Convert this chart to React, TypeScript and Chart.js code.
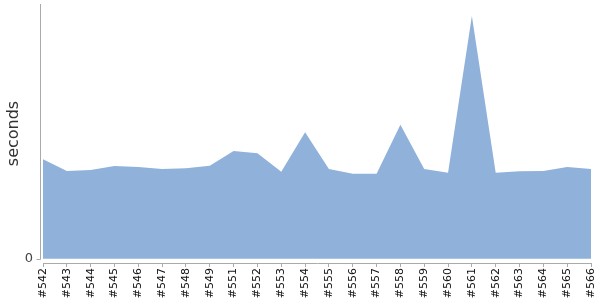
import React, { useEffect, useRef } from "react";
import { Chart, registerables } from "chart.js";

Chart.register(...registerables);

const categories = [
  "#542", "#543", "#544", "#545", "#546", "#547", "#548", "#549",
  "#551", "#552", "#553", "#554", "#555", "#556", "#557", "#558",
  "#559", "#560", "#561", "#562", "#563", "#564", "#565", "#566",
];

const seconds = [
  99.4, 87.7, 88.7, 92.7, 91.7, 89.7, 90.5, 93,
  107.7, 105.4, 87, 126.4, 89.7, 85, 85, 134,
  89.7, 86, 242.7, 86, 87.4, 87.7, 91.7, 89.7,
];

const yTicks = [0];
const yMin = -4.3;
const yMax = 254.7;

const FONT = "'DejaVu Sans', Verdana, sans-serif";

const axisLines = {
  id: "axisLines",
  afterDraw(chart: any) {
    const { ctx, chartArea, scales } = chart;
    const y0 = scales.y.getPixelForValue(0);
    ctx.save();
    ctx.strokeStyle = "#aaaaaa";
    ctx.lineWidth = 1;
    const x = Math.round(chartArea.left - 3) + 0.5;
    ctx.beginPath();
    ctx.moveTo(x, chartArea.top);
    ctx.lineTo(x, Math.round(y0) + 0.5);
    ctx.moveTo(x - 4, Math.round(y0) + 0.5);
    ctx.lineTo(x, Math.round(y0) + 0.5);
    ctx.stroke();
    ctx.restore();
  },
};

export default function App() {
  const ref = useRef<HTMLCanvasElement>(null);
  useEffect(() => {
    const chart = new Chart(ref.current!, {
      type: "line",
      data: {
        labels: categories,
        datasets: [
          {
            data: seconds,
            fill: "origin",
            backgroundColor: "rgb(143,177,218)",
            borderWidth: 0,
            pointRadius: 0,
            tension: 0,
          },
        ],
      },
      options: {
        animation: false,
        responsive: false,
        maintainAspectRatio: false,
        layout: { padding: { top: 4, right: 9, left: 0, bottom: 0 } },
        plugins: { legend: { display: false }, tooltip: { enabled: false } },
        scales: {
          x: {
            type: "category",
            offset: false,
            grid: { display: true, drawOnChartArea: false, tickLength: 4, color: "#aaaaaa" },
            border: { display: true, color: "#aaaaaa" },
            ticks: {
              autoSkip: false,
              minRotation: 90,
              maxRotation: 90,
              padding: 1,
              color: "#111111",
              font: { family: FONT, size: 11 },
            },
            afterFit: (s: any) => {
              s.height = 37;
              s.paddingLeft = 0;
              s.paddingRight = 0;
            },
          },
          y: {
            min: yMin,
            max: yMax,
            grid: { display: false, drawTicks: false },
            border: { display: false },
            afterBuildTicks: (s: any) => {
              s.ticks = yTicks.map((v) => ({ value: v }));
            },
            ticks: {
              padding: 10,
              color: "#444444",
              font: { family: FONT, size: 13 },
            },
            title: {
              display: true,
              text: "seconds",
              color: "#333333",
              padding: { top: 4, bottom: 0 },
              font: { family: FONT, size: 16 },
            },
            afterFit: (s: any) => {
              s.width = 43;
              s.paddingTop = 0;
              s.paddingBottom = 0;
            },
          },
        },
      },
      plugins: [axisLines],
    });
    return () => chart.destroy();
  }, []);
  return (
    <div style={{ position: "fixed", left: 0, top: 0, width: 600, height: 300 }}>
      <canvas ref={ref} width={600} height={300} style={{ width: 600, height: 300 }} />
    </div>
  );
}
